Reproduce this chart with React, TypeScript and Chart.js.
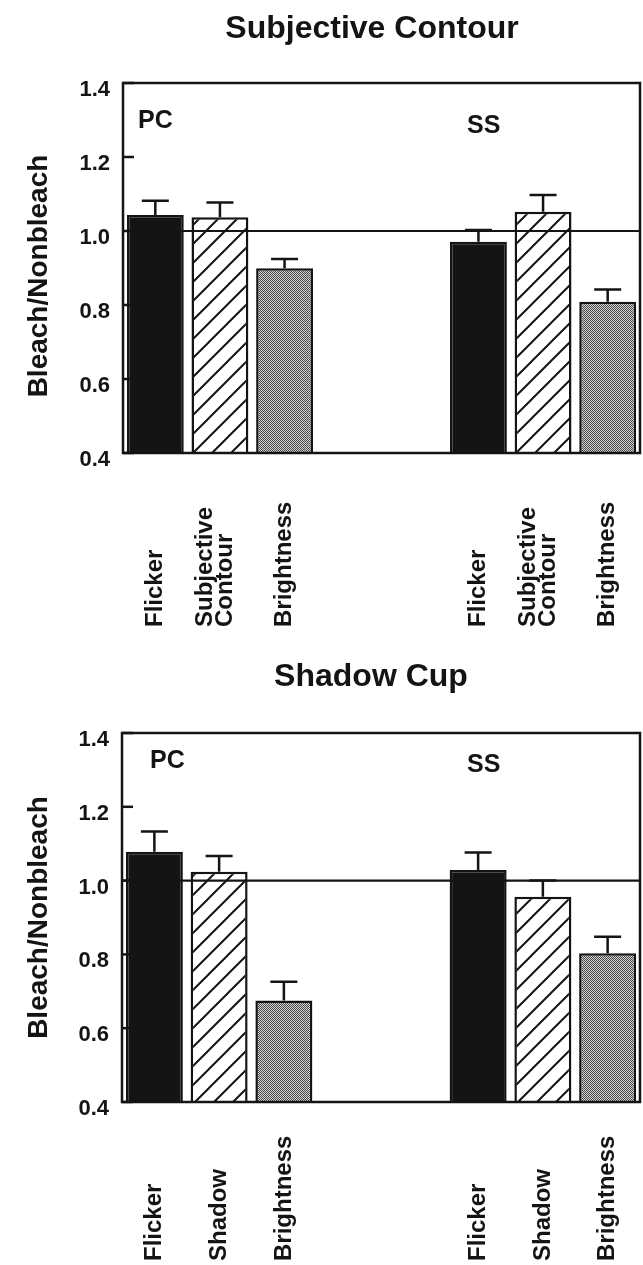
import React, { useEffect, useRef } from "react";
import { Chart, registerables } from "chart.js";

Chart.register(...registerables);

// ---------- data ----------
const yTicks = [0.4, 0.6, 0.8, 1.0, 1.2, 1.4];
const groupLabels = ["PC", "SS"];
const referenceValue = 1.0;

const contourTitle = "Subjective Contour";
const contourCategories: (string | string[])[] = ["Flicker", ["Subjective", "Contour"], "Brightness"];
const contourPC = [1.043, 1.037, 0.899];
const contourPCErr = [0.039, 0.04, 0.025];
const contourSS = [0.971, 1.052, 0.809];
const contourSSErr = [0.032, 0.045, 0.033];

const shadowTitle = "Shadow Cup";
const shadowCategories: (string | string[])[] = ["Flicker", "Shadow", "Brightness"];
const shadowPC = [1.078, 1.024, 0.675];
const shadowPCErr = [0.055, 0.043, 0.051];
const shadowSS = [1.029, 0.956, 0.803];
const shadowSSErr = [0.047, 0.044, 0.045];

const yTitle = "Bleach/Nonbleach";

// ---------- style ----------
const INK = "#141414";
const FONT = "'Liberation Sans', Arial, Helvetica, sans-serif";
const W = 643;

type PanelCfg = {
  title: string;
  categories: (string | string[])[];
  pc: number[];
  pcErr: number[];
  ss: number[];
  ssErr: number[];
  height: number;
  top: number;
  plotTop: number;
  plotBottom: number;
  plotLeft: number;
  titleX: number;
  titleBaseline: number;
  yTitleShift: number;
  groupX: number[];
  groupBaseline: number[];
  labelBottom: number;
};

const panels: PanelCfg[] = [
  {
    title: contourTitle,
    categories: contourCategories,
    pc: contourPC,
    pcErr: contourPCErr,
    ss: contourSS,
    ssErr: contourSSErr,
    height: 632,
    top: 0,
    plotTop: 83,
    plotBottom: 453,
    plotLeft: 123,
    titleX: 372,
    titleBaseline: 38,
    yTitleShift: 8,
    groupX: [138, 467],
    groupBaseline: [45, 50],
    labelBottom: 627,
  },
  {
    title: shadowTitle,
    categories: shadowCategories,
    pc: shadowPC,
    pcErr: shadowPCErr,
    ss: shadowSS,
    ssErr: shadowSSErr,
    height: 633,
    top: 632,
    plotTop: 101,
    plotBottom: 470,
    plotLeft: 122,
    titleX: 371,
    titleBaseline: 54,
    yTitleShift: 0,
    groupX: [150, 467],
    groupBaseline: [35, 39],
    labelBottom: 629,
  },
];

function makeHatch(ctx: CanvasRenderingContext2D) {
  const s = 19;
  const t = document.createElement("canvas");
  t.width = s;
  t.height = s;
  const c = t.getContext("2d")!;
  c.fillStyle = "#ffffff";
  c.fillRect(0, 0, s, s);
  c.strokeStyle = INK;
  c.lineWidth = 2;
  c.beginPath();
  c.moveTo(-3, s + 3);
  c.lineTo(s + 3, -3);
  c.moveTo(-3, 3);
  c.lineTo(3, -3);
  c.moveTo(s - 3, s + 3);
  c.lineTo(s + 3, s - 3);
  c.stroke();
  return ctx.createPattern(t, "repeat")!;
}

function makeStipple(ctx: CanvasRenderingContext2D) {
  const t = document.createElement("canvas");
  t.width = 2;
  t.height = 2;
  const c = t.getContext("2d")!;
  c.fillStyle = "#d2d2d2";
  c.fillRect(0, 0, 2, 2);
  c.fillStyle = "#4a4a4a";
  c.fillRect(0, 0, 1, 1);
  c.fillRect(1, 1, 1, 1);
  return ctx.createPattern(t, "repeat")!;
}

function Panel({ cfg }: { cfg: PanelCfg }) {
  const ref = useRef<HTMLCanvasElement>(null);

  useEffect(() => {
    const canvas = ref.current!;
    const ctx = canvas.getContext("2d")!;
    const fills = [INK, makeHatch(ctx), makeStipple(ctx)];

    const labels: (string | string[])[] = [...cfg.categories, "", "", ...cfg.categories];
    const values: (number | null)[] = [...cfg.pc, null, null, ...cfg.ss];
    const errors: (number | null)[] = [...cfg.pcErr, null, null, ...cfg.ssErr];
    const bg: any[] = [...fills, "transparent", "transparent", ...fills];

    const decor = {
      id: "decor",
      beforeDatasetsDraw(chart: any) {
        const { ctx: g, chartArea: a, scales } = chart;
        const y = scales.y;
        g.save();
        g.strokeStyle = INK;
        g.lineWidth = 2.5;
        yTicks.forEach((v) => {
          const py = y.getPixelForValue(v);
          g.beginPath();
          g.moveTo(a.left, py);
          g.lineTo(a.left + 11, py);
          g.stroke();
        });
        g.restore();
      },
      afterDatasetsDraw(chart: any) {
        const { ctx: g, chartArea: a, scales } = chart;
        const x = scales.x;
        const y = scales.y;
        g.save();
        g.strokeStyle = INK;
        // reference line
        g.lineWidth = 2.2;
        const ry = y.getPixelForValue(referenceValue);
        g.beginPath();
        g.moveTo(a.left, ry);
        g.lineTo(a.right, ry);
        g.stroke();
        // error bars (upper only)
        g.lineWidth = 2.5;
        values.forEach((v, i) => {
          const e = errors[i];
          if (v == null || e == null) return;
          const px = x.getPixelForValue(i);
          const y0 = y.getPixelForValue(v);
          const y1 = y.getPixelForValue(v + e);
          g.beginPath();
          g.moveTo(px, y0);
          g.lineTo(px, y1);
          g.moveTo(px - 13.5, y1);
          g.lineTo(px + 13.5, y1);
          g.stroke();
        });
        // frame
        g.lineWidth = 2.5;
        g.strokeRect(a.left, a.top, a.right - a.left, a.bottom - a.top);
        g.restore();
      },
      afterDraw(chart: any) {
        const { ctx: g, chartArea: a, scales } = chart;
        const x = scales.x;
        g.save();
        g.fillStyle = INK;
        // title
        g.font = `bold 32px ${FONT}`;
        g.textAlign = "center";
        g.textBaseline = "alphabetic";
        g.fillText(cfg.title, cfg.titleX, cfg.titleBaseline);
        // y title
        g.save();
        g.translate(39, (a.top + a.bottom) / 2 + cfg.yTitleShift);
        g.rotate(-Math.PI / 2);
        g.font = `bold 28px ${FONT}`;
        g.textAlign = "center";
        g.textBaseline = "middle";
        g.fillText(yTitle, 0, 0);
        g.restore();
        // group labels
        g.font = `bold 25px ${FONT}`;
        g.textAlign = "left";
        g.textBaseline = "alphabetic";
        groupLabels.forEach((t, k) => {
          g.fillText(t, cfg.groupX[k], a.top + cfg.groupBaseline[k]);
        });
        // category labels (rotated, bottom aligned)
        g.font = `bold 24px ${FONT}`;
        labels.forEach((lab, i) => {
          const lines = Array.isArray(lab) ? lab : [lab];
          if (!lines.join("")) return;
          const px = x.getPixelForValue(i);
          const n = lines.length;
          lines.forEach((line, j) => {
            const cx = px + (j - (n - 1) / 2) * 20 + (n > 1 ? -5 : 0);
            g.save();
            g.translate(cx, cfg.labelBottom);
            g.rotate(-Math.PI / 2);
            g.textAlign = "left";
            g.textBaseline = "middle";
            g.fillText(line, 0, 0);
            g.restore();
          });
        });
        g.restore();
      },
    };

    const chart = new Chart(canvas, {
      type: "bar",
      data: {
        labels,
        datasets: [
          {
            data: values,
            backgroundColor: bg,
            borderColor: INK,
            borderWidth: 2.5,
            borderSkipped: false,
            barPercentage: 0.88,
            categoryPercentage: 1,
          } as any,
        ],
      },
      options: {
        responsive: false,
        animation: false,
        events: [],
        layout: {
          padding: {
            top: cfg.plotTop,
            bottom: cfg.height - cfg.plotBottom,
            left: 0,
            right: 3,
          },
        },
        plugins: {
          legend: { display: false },
          tooltip: { enabled: false },
          title: { display: false },
        },
        scales: {
          x: {
            type: "category",
            display: false,
            grid: { display: false },
          },
          y: {
            type: "linear",
            min: yTicks[0],
            max: yTicks[yTicks.length - 1],
            grid: { display: false, drawTicks: false },
            border: { display: false },
            afterFit(scale: any) {
              scale.width = cfg.plotLeft;
            },
            afterBuildTicks(scale: any) {
              scale.ticks = yTicks.map((v) => ({ value: v }));
            },
            ticks: {
              padding: 13,
              labelOffset: 7,
              color: INK,
              font: { family: FONT, size: 22, weight: "bold" },
              callback: (v: any) => Number(v).toFixed(1),
            },
          } as any,
        },
      },
      plugins: [decor],
    });

    return () => chart.destroy();
  }, []);

  return (
    <canvas
      ref={ref}
      width={W}
      height={cfg.height}
      style={{ position: "absolute", left: 0, top: cfg.top, width: W, height: cfg.height, display: "block" }}
    />
  );
}

export default function App() {
  return (
    <div
      style={{
        position: "absolute",
        left: 0,
        top: 0,
        width: W,
        height: 1265,
        overflow: "hidden",
        background: "#ffffff",
      }}
    >
      {panels.map((p, i) => (
        <Panel key={i} cfg={p} />
      ))}
    </div>
  );
}
